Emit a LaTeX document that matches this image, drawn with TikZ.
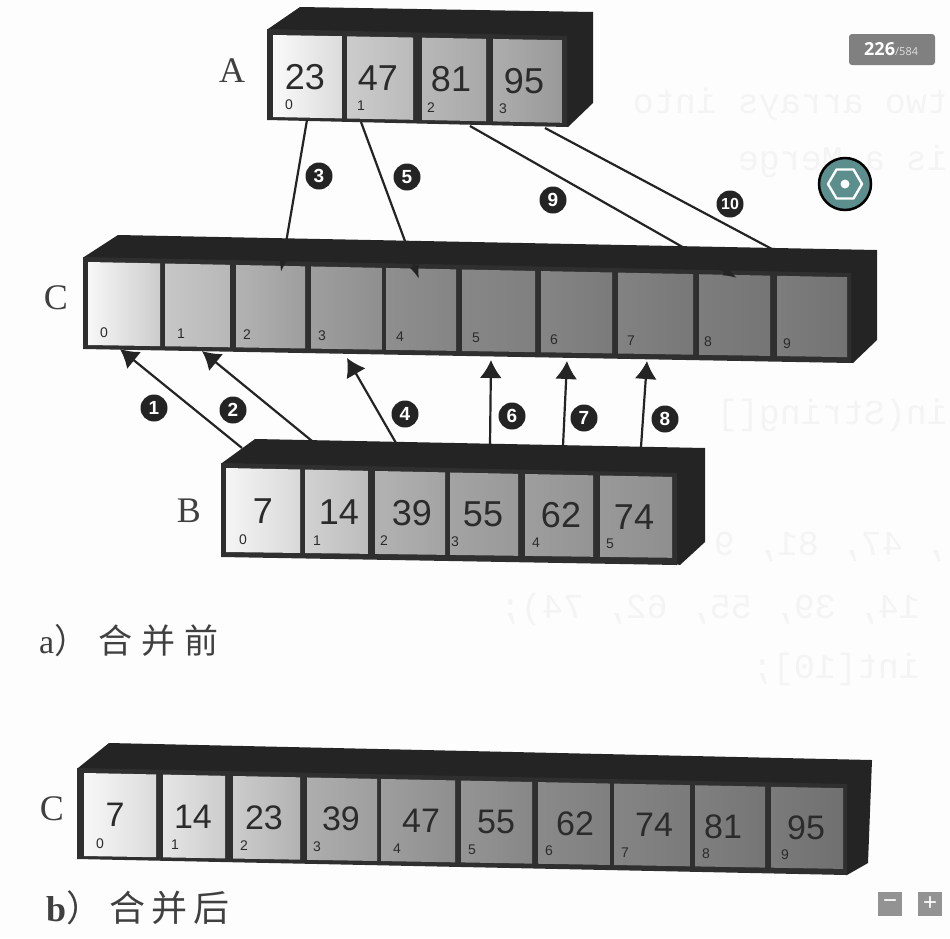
\documentclass[tikz,border=0pt]{standalone}
\usepackage{graphicx}
\usepackage{fontspec}
\setmainfont{Liberation Serif}
\newfontfamily\numfont{Liberation Sans}
\newfontfamily\cjkfont{Noto Sans CJK SC}
\newfontfamily\uifont{Open Sans}
\newfontfamily\ghostfont{Liberation Mono}
\usetikzlibrary{arrows.meta}
\definecolor{paper}{HTML}{FDFDFD}
\definecolor{bodydark}{HTML}{242424}
\definecolor{framedark}{HTML}{2F2F2F}
\definecolor{ink}{HTML}{2B2B2B}
\definecolor{teal}{HTML}{5B8E8D}
\definecolor{badge}{HTML}{808080}
\definecolor{ghost}{HTML}{F4F4F4}
\tikzset{
  valtext/.style={font=\numfont\fontsize{36}{36}\selectfont,text=ink,inner sep=0pt},
  valtextb/.style={font=\numfont\fontsize{34}{34}\selectfont,text=ink,inner sep=0pt},
  idxtext/.style={font=\numfont\fontsize{14}{14}\selectfont,text=ink,inner sep=0pt},
  arrlabel/.style={font=\fontsize{36}{36}\selectfont,text=black!75,inner sep=0pt},
  caption/.style={font=\fontsize{34}{34}\selectfont,text=black!75,inner sep=0pt,anchor=base west},
  captionb/.style={font=\fontsize{36}{36}\selectfont,text=black!75,inner sep=0pt,anchor=base west},
  stepmark/.style={circle,fill=bodydark,text=white,inner sep=0pt,minimum size=27pt,font=\numfont\bfseries\fontsize{19}{19}\selectfont},
  feed/.style={draw=bodydark,line width=2.2pt,-{Latex[length=18pt,width=22pt]}},
  fetch/.style={draw=bodydark,line width=2.2pt,-{Latex[length=14pt,width=10pt]}},
  ghosttext/.style={font=\ghostfont\fontsize{35}{35}\selectfont,text=ghost,inner sep=0pt,anchor=base east},
  uibtn/.style={fill=badge!85,text=white,minimum size=24pt,inner sep=0pt,font=\numfont\fontsize{24}{24}\selectfont},
}
\newcommand{\arraybody}[2]{\fill[bodydark] #1; \fill[framedark] #2;}
% #1 name, #2 xref, #3 ytop, #4 top slope, #5 ybot, #6 bottom slope, #7 style, #8 list
\newcommand{\arraycells}[8]{%
  \foreach \xa/\xb/\gl/\gr/\vx/\vt/\ix [count=\n from 0] in {#8}{%
    \pgfmathsetmacro{\tA}{#3+#4*(\xa-#2)}%
    \pgfmathsetmacro{\tB}{#3+#4*(\xb-#2)}%
    \pgfmathsetmacro{\bA}{#5+#6*(\xa-#2)}%
    \pgfmathsetmacro{\bB}{#5+#6*(\xb-#2)}%
    \pgfmathsetmacro{\vy}{(\tA+\bA+\tB+\bB)/4}%
    \pgfmathsetmacro{\iy}{#5+#6*(\ix-#2)-13}%
    \path[left color=black!\gl,right color=black!\gr] (\xa,\tA) -- (\xb,\tB) -- (\xb,\bB) -- (\xa,\bA) -- cycle;
    \node[#7] (#1v\n) at (\vx,\vy) {\vt};
    \node[idxtext] (#1i\n) at (\ix,\iy) {\n};
  }%
}
\begin{document}
\begin{tikzpicture}[x=1pt,y=-1pt]
\useasboundingbox (0,0) rectangle (950,938);
\fill[paper] (0,0) rectangle (950,938);

% faint mirrored show-through from the other side of the page
\node[ghosttext] (g1) at (948,113) {\reflectbox{two arrays into}};
\node[ghosttext] (g2) at (948,170) {\reflectbox{is a Merge}};
\node[ghosttext] (g3) at (948,424) {\reflectbox{in(String[]}};
\node[ghosttext] (g4) at (945,555) {\reflectbox{, 47, 81, 9}};
\node[ghosttext] (g5) at (920,618) {\reflectbox{14, 39, 55, 62, 74);}};
\node[ghosttext] (g6) at (920,678) {\reflectbox{int[10];}};

% Array A
\arraybody{(268,29) -- (300,7) -- (593,12) -- (593,103) -- (568,127) -- cycle}{(267,29) -- (567,36) -- (567,127) -- (267,120) -- cycle}
\arraycells{A}{273}{35}{0.018}{117}{0.02}{valtext}{
  273/342/2/14/305/23/289,
  347/413/20/27/378/47/361,
  422/486/28/34/451/81/431,
  493/562/32/40/524/95/503}

% Array C
\arraybody{(84,257) -- (118,235) -- (877,250) -- (877,340) -- (853,363) -- cycle}{(83,257) -- (851,273) -- (851,363) -- (83,349) -- cycle}
\arraycells{C}{88}{262}{0.02}{345}{0.016}{valtext}{
  88/160/3/20/0/{}/104,
  165/230/22/28/0/{}/181,
  236/305/30/38/0/{}/247,
  311/382/38/44/0/{}/322,
  386/456/44/48/0/{}/400,
  462/535/47/50/0/{}/476,
  541/612/48/52/0/{}/554,
  618/693/49/53/0/{}/631,
  699/770/51/54/0/{}/708,
  777/847/51/55/0/{}/787}

% Array B
\arraybody{(222,463) -- (255,439) -- (705,448) -- (705,542) -- (680,565) -- cycle}{(221,463) -- (677,473) -- (677,565) -- (221,557) -- cycle}
\arraycells{B}{226}{468}{0.02}{552}{0.013}{valtext}{
  226/300/4/15/263/7/243,
  305/368/18/26/339/14/317,
  375/445/30/36/412/39/384,
  450/518/36/40/483/55/455,
  525/593/38/42/561/62/536,
  600/672/40/44/634/74/610}

% Array C merged
\arraybody{(78,768) -- (109,743) -- (872,760) -- (868,863) -- (847,875) -- cycle}{(77,768) -- (847,784) -- (847,875) -- (77,859) -- cycle}
\arraycells{M}{84}{773}{0.02}{856}{0.017}{valtextb}{
  84/156/3/14/115/7/100,
  163/225/10/20/193/14/175,
  233/300/20/30/264/23/244,
  307/377/32/38/341/39/317,
  381/455/38/44/421/47/397,
  461/532/42/47/496/55/472,
  538/610/46/50/575/62/549,
  614/690/48/52/654/74/625,
  695/765/50/54/723/81/706,
  771/843/52/56/806/95/785}

% connector ends
\coordinate (ab0) at (307,120);
\coordinate (ab1) at (361,122);
\coordinate (ab2) at (470,126);
\coordinate (ab3) at (545,128);
\coordinate (ct2) at (281,272);
\coordinate (ct4) at (419,279);
\coordinate (ct8) at (737,278);
\coordinate (ct9) at (815,272);
\coordinate (bt0) at (242,448);
\coordinate (bt1) at (312,441);
\coordinate (bt2) at (396,443);
\coordinate (bt3) at (490,445);
\coordinate (bt4) at (563,446);
\coordinate (bt5) at (641,447);
\coordinate (cb0) at (120,349);
\coordinate (cb1) at (202,351);
\coordinate (cb3) at (347,358);
\coordinate (cb5) at (491,360);
\coordinate (cb6) at (567,361);
\coordinate (cb7) at (647,361);

\draw[fetch] (ab0) -- (ct2);
\draw[fetch] (ab1) -- (ct4);
\draw[fetch] (ab2) -- (ct8);
\draw[fetch] (ab3) -- (ct9);
\draw[feed] (bt0) -- (cb0);
\draw[feed] (bt1) -- (cb1);
\draw[feed] (bt2) -- (cb3);
\draw[feed] (bt3) -- (cb5);
\draw[feed] (bt4) -- (cb6);
\draw[feed] (bt5) -- (cb7);

% step marks
\node[stepmark] (s1) at (154,408) {1};
\node[stepmark] (s2) at (233,410) {2};
\node[stepmark] (s3) at (319,176) {3};
\node[stepmark] (s4) at (405,414) {4};
\node[stepmark] (s5) at (407,177) {5};
\node[stepmark] (s6) at (512,416) {6};
\node[stepmark] (s7) at (584,418) {7};
\node[stepmark] (s8) at (665,419) {8};
\node[stepmark] (s9) at (553,200) {9};
\node[stepmark,font=\numfont\bfseries\fontsize{16}{16}\selectfont] (s10) at (730,204) {10};

% labels
\node[arrlabel] (lA) at (232,71) {A};
\node[arrlabel] (lB) at (189,511) {B};
\node[arrlabel] (lC) at (56,298) {C};
\node[arrlabel] (lM) at (52,809) {C};
\node[caption] (capa) at (39,653) {a\cjkfont）\hspace{10pt}合\hspace{9pt}并\hspace{9pt}前};
\node[captionb] (capb) at (46,921) {\bfseries b\mdseries\cjkfont）\hspace{7pt}合\hspace{6pt}并\hspace{6pt}后};

% viewer widgets
\node[fill=badge,rounded corners=3pt,minimum width=86pt,minimum height=31pt,inner sep=0pt] (badge) at (892,49.5) {};
\node[inner sep=0pt,text=white,anchor=base west,font=\uifont\bfseries\fontsize{18}{18}\selectfont] (page) at (864,55) {226};
\node[inner sep=0pt,text=white!75!badge,anchor=base west,font=\uifont\fontsize{11}{11}\selectfont] (pages) at (895,55) {/584};
\node[circle,fill=teal,draw=black,line width=2.5pt,minimum size=52pt,inner sep=0pt] (gear) at (845,184) {};
\draw[white,line width=2.4pt,line join=round] (gear.center) ++(-17,0) -- ++(8.5,-14.5) -- ++(17,0) -- ++(8.5,14.5) -- ++(-8.5,14.5) -- ++(-17,0) -- cycle;
\fill[white] (gear.center) circle (4.5pt);
\node[uibtn] (minus) at (890,904) {−};
\node[uibtn] (plus) at (930,904) {+};
\end{tikzpicture}
\end{document}
